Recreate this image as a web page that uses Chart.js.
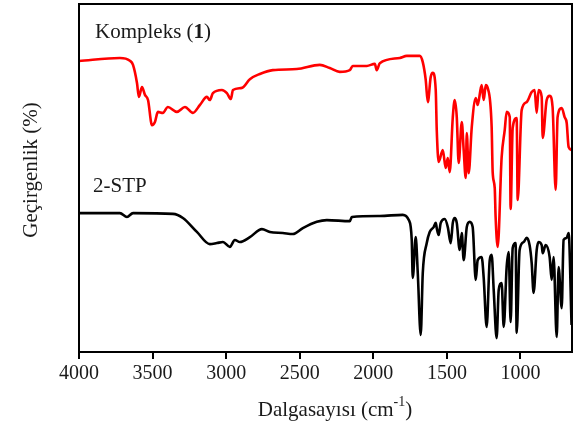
<!DOCTYPE html>
<html>
<head>
<meta charset="utf-8">
<script src="https://cdn.jsdelivr.net/npm/chart.js@4"></script>
<style>
  html, body { margin: 0; padding: 0; background: #fff; }
  #wrap { width: 575px; height: 431px; }
</style>
</head>
<body>
<div id="wrap"><canvas id="irChart" width="575" height="431"></canvas></div>
<script>
// x-axis tick labels (wavenumber, cm-1)
const tickValues = [4000, 3500, 3000, 2500, 2000, 1500, 1000];

// Kompleks (1) - red trace (wavenumber / transmittance, arbitrary %)
const kompleksWn = [4000, 3722, 3654, 3633, 3606, 3593, 3572, 3552, 3531, 3504, 3484, 3464, 3430, 3396, 3335, 3280, 3226, 3178, 3131, 3111, 3090, 3029, 2995, 2968, 2954, 2893, 2839, 2771, 2683, 2520, 2364, 2296, 2228, 2160, 2140, 2044, 1990, 1977, 1956, 1820, 1773, 1685, 1664, 1644, 1630, 1610, 1596, 1576, 1569, 1556, 1528, 1508, 1494, 1481, 1460, 1447, 1433, 1420, 1399, 1386, 1372, 1365, 1352, 1331, 1304, 1291, 1264, 1250, 1236, 1223, 1196, 1189, 1175, 1169, 1155, 1128, 1107, 1094, 1073, 1067, 1053, 1026, 1019, 992, 958, 924, 904, 890, 877, 856, 849, 822, 802, 782, 761, 748, 720, 700, 686, 673, 650];
const kompleksT = [83.6, 84.5, 83.7, 82.5, 77.3, 73.3, 76.1, 73.9, 72.4, 65.2, 66.1, 69.0, 68.7, 70.4, 69.0, 70.4, 68.7, 71.0, 73.3, 72.4, 74.4, 75.3, 74.4, 72.7, 75.3, 75.9, 78.4, 79.9, 81.0, 81.3, 82.5, 81.6, 80.5, 81.0, 82.2, 82.2, 82.8, 81.0, 83.0, 84.5, 85.1, 85.1, 83.3, 78.2, 71.8, 79.0, 80.2, 75.3, 63.8, 54.6, 58.0, 52.9, 55.7, 51.7, 67.5, 72.4, 67.5, 54.3, 66.1, 58.0, 50.0, 62.9, 51.4, 64.7, 73.0, 71.0, 76.7, 72.4, 76.7, 75.9, 64.7, 51.7, 47.1, 38.8, 30.2, 56.0, 63.8, 69.0, 67.5, 41.1, 64.4, 67.2, 43.7, 69.5, 71.8, 74.7, 75.3, 68.7, 75.3, 73.3, 61.5, 72.4, 73.6, 70.4, 46.6, 67.5, 70.1, 67.5, 65.8, 58.9, 58.0];

// 2-STP - black trace
const stpWn = [4000, 3722, 3674, 3633, 3362, 3294, 3199, 3111, 3063, 3022, 2975, 2941, 2907, 2839, 2757, 2703, 2615, 2547, 2479, 2384, 2316, 2160, 2146, 1956, 1800, 1759, 1739, 1732, 1712, 1698, 1678, 1664, 1637, 1617, 1590, 1576, 1569, 1556, 1542, 1515, 1494, 1474, 1460, 1447, 1433, 1413, 1399, 1386, 1365, 1345, 1325, 1304, 1291, 1264, 1250, 1230, 1209, 1196, 1182, 1162, 1148, 1128, 1114, 1094, 1080, 1067, 1053, 1033, 1026, 1006, 978, 958, 938, 924, 911, 890, 877, 856, 849, 829, 802, 788, 775, 754, 741, 720, 707, 686, 673, 653];
const stpT = [39.9, 39.9, 38.8, 39.9, 39.7, 38.5, 34.5, 31.0, 31.3, 31.6, 30.2, 32.2, 31.6, 33.0, 35.3, 34.5, 34.2, 33.9, 35.6, 37.4, 37.9, 37.6, 38.8, 39.1, 39.4, 37.9, 32.2, 21.3, 33.0, 22.7, 4.9, 22.7, 31.3, 34.5, 35.9, 37.1, 35.6, 33.6, 37.1, 38.2, 35.9, 31.3, 37.1, 38.5, 37.1, 29.3, 34.2, 26.4, 35.9, 37.4, 35.9, 20.7, 26.4, 27.3, 21.3, 7.2, 26.4, 27.9, 17.8, 4.0, 17.8, 19.8, 7.2, 24.4, 28.7, 8.6, 29.9, 31.3, 5.5, 29.3, 31.6, 32.8, 30.7, 25.6, 17.0, 29.3, 31.6, 30.7, 28.4, 30.7, 27.3, 20.7, 27.3, 4.3, 24.4, 12.6, 32.2, 32.8, 34.2, 7.8];

const toPoints = (xs, ys) => xs.map((x, i) => ({ x: x, y: ys[i] }));

const textColor = "#1a1a1a";
const serif = "'Liberation Serif', 'Times New Roman', serif";

// frame, curve labels and axis titles
const decorPlugin = {
  id: "decor",
  afterDraw(chart) {
    const { ctx, chartArea } = chart;
    ctx.save();
    ctx.strokeStyle = "#000";
    ctx.lineWidth = 2;
    ctx.strokeRect(chartArea.left, chartArea.top, chartArea.right - chartArea.left, chartArea.bottom - chartArea.top);

    ctx.fillStyle = textColor;
    ctx.textBaseline = "alphabetic";
    ctx.textAlign = "left";

    // Kompleks (1) with bold 1
    ctx.font = "21px " + serif;
    let x = 95;
    const part1 = "Kompleks (";
    ctx.fillText(part1, x, 38);
    x += ctx.measureText(part1).width;
    ctx.font = "bold 21px " + serif;
    ctx.fillText("1", x, 38);
    x += ctx.measureText("1").width;
    ctx.font = "21px " + serif;
    ctx.fillText(")", x, 38);

    ctx.fillText("2-STP", 93, 192);

    // x title with superscript
    const a = "Dalgasayısı (cm";
    const sup = "-1";
    const b = ")";
    ctx.font = "21px " + serif;
    const wa = ctx.measureText(a).width;
    const wb = ctx.measureText(b).width;
    ctx.font = "14px " + serif;
    const ws = ctx.measureText(sup).width;
    let tx = 335 - (wa + ws + wb) / 2;
    ctx.font = "21px " + serif;
    ctx.fillText(a, tx, 416);
    tx += wa;
    ctx.font = "14px " + serif;
    ctx.fillText(sup, tx, 406);
    tx += ws;
    ctx.font = "21px " + serif;
    ctx.fillText(b, tx, 416);

    // y title
    ctx.translate(37, 170);
    ctx.rotate(-Math.PI / 2);
    ctx.textAlign = "center";
    ctx.font = "21px " + serif;
    ctx.fillText("Geçirgenlik (%)", 0, 0);
    ctx.restore();
  },
};

const ctx = document.getElementById("irChart").getContext("2d");
const irChart = new Chart(ctx, {
  type: "line",
  data: {
    datasets: [
      {
        label: "Kompleks (1)",
        data: toPoints(kompleksWn, kompleksT),
        borderColor: "#ff0000",
        borderWidth: 2.6,
        pointRadius: 0,
        cubicInterpolationMode: "monotone",
        fill: false,
      },
      {
        label: "2-STP",
        data: toPoints(stpWn, stpT),
        borderColor: "#000000",
        borderWidth: 2.6,
        pointRadius: 0,
        cubicInterpolationMode: "monotone",
        fill: false,
      },
    ],
  },
  options: {
    responsive: false,
    animation: false,
    layout: { padding: { top: 4, right: 3, left: 0, bottom: 0 } },
    plugins: {
      legend: { display: false },
      tooltip: { enabled: false },
    },
    scales: {
      x: {
        type: "linear",
        reverse: true,
        min: 650,
        max: 4000,
        afterBuildTicks: (scale) => {
          scale.ticks = tickValues.map((v) => ({ value: v }));
        },
        afterFit: (scale) => {
          scale.height = 79;
        },
        grid: {
          drawOnChartArea: false,
          drawTicks: true,
          tickLength: 7,
          color: "#000",
          lineWidth: 2,
        },
        border: { display: true, color: "#000", width: 2 },
        ticks: {
          color: textColor,
          font: { family: serif, size: 20 },
          padding: 3,
          maxRotation: 0,
          callback: (val) => String(val),
        },
      },
      y: {
        min: 0,
        max: 100,
        afterFit: (scale) => {
          scale.width = 79;
        },
        grid: { display: false },
        border: { display: true, color: "#000", width: 2 },
        ticks: { display: false },
      },
    },
  },
  plugins: [decorPlugin],
});
</script>
</body>
</html>
